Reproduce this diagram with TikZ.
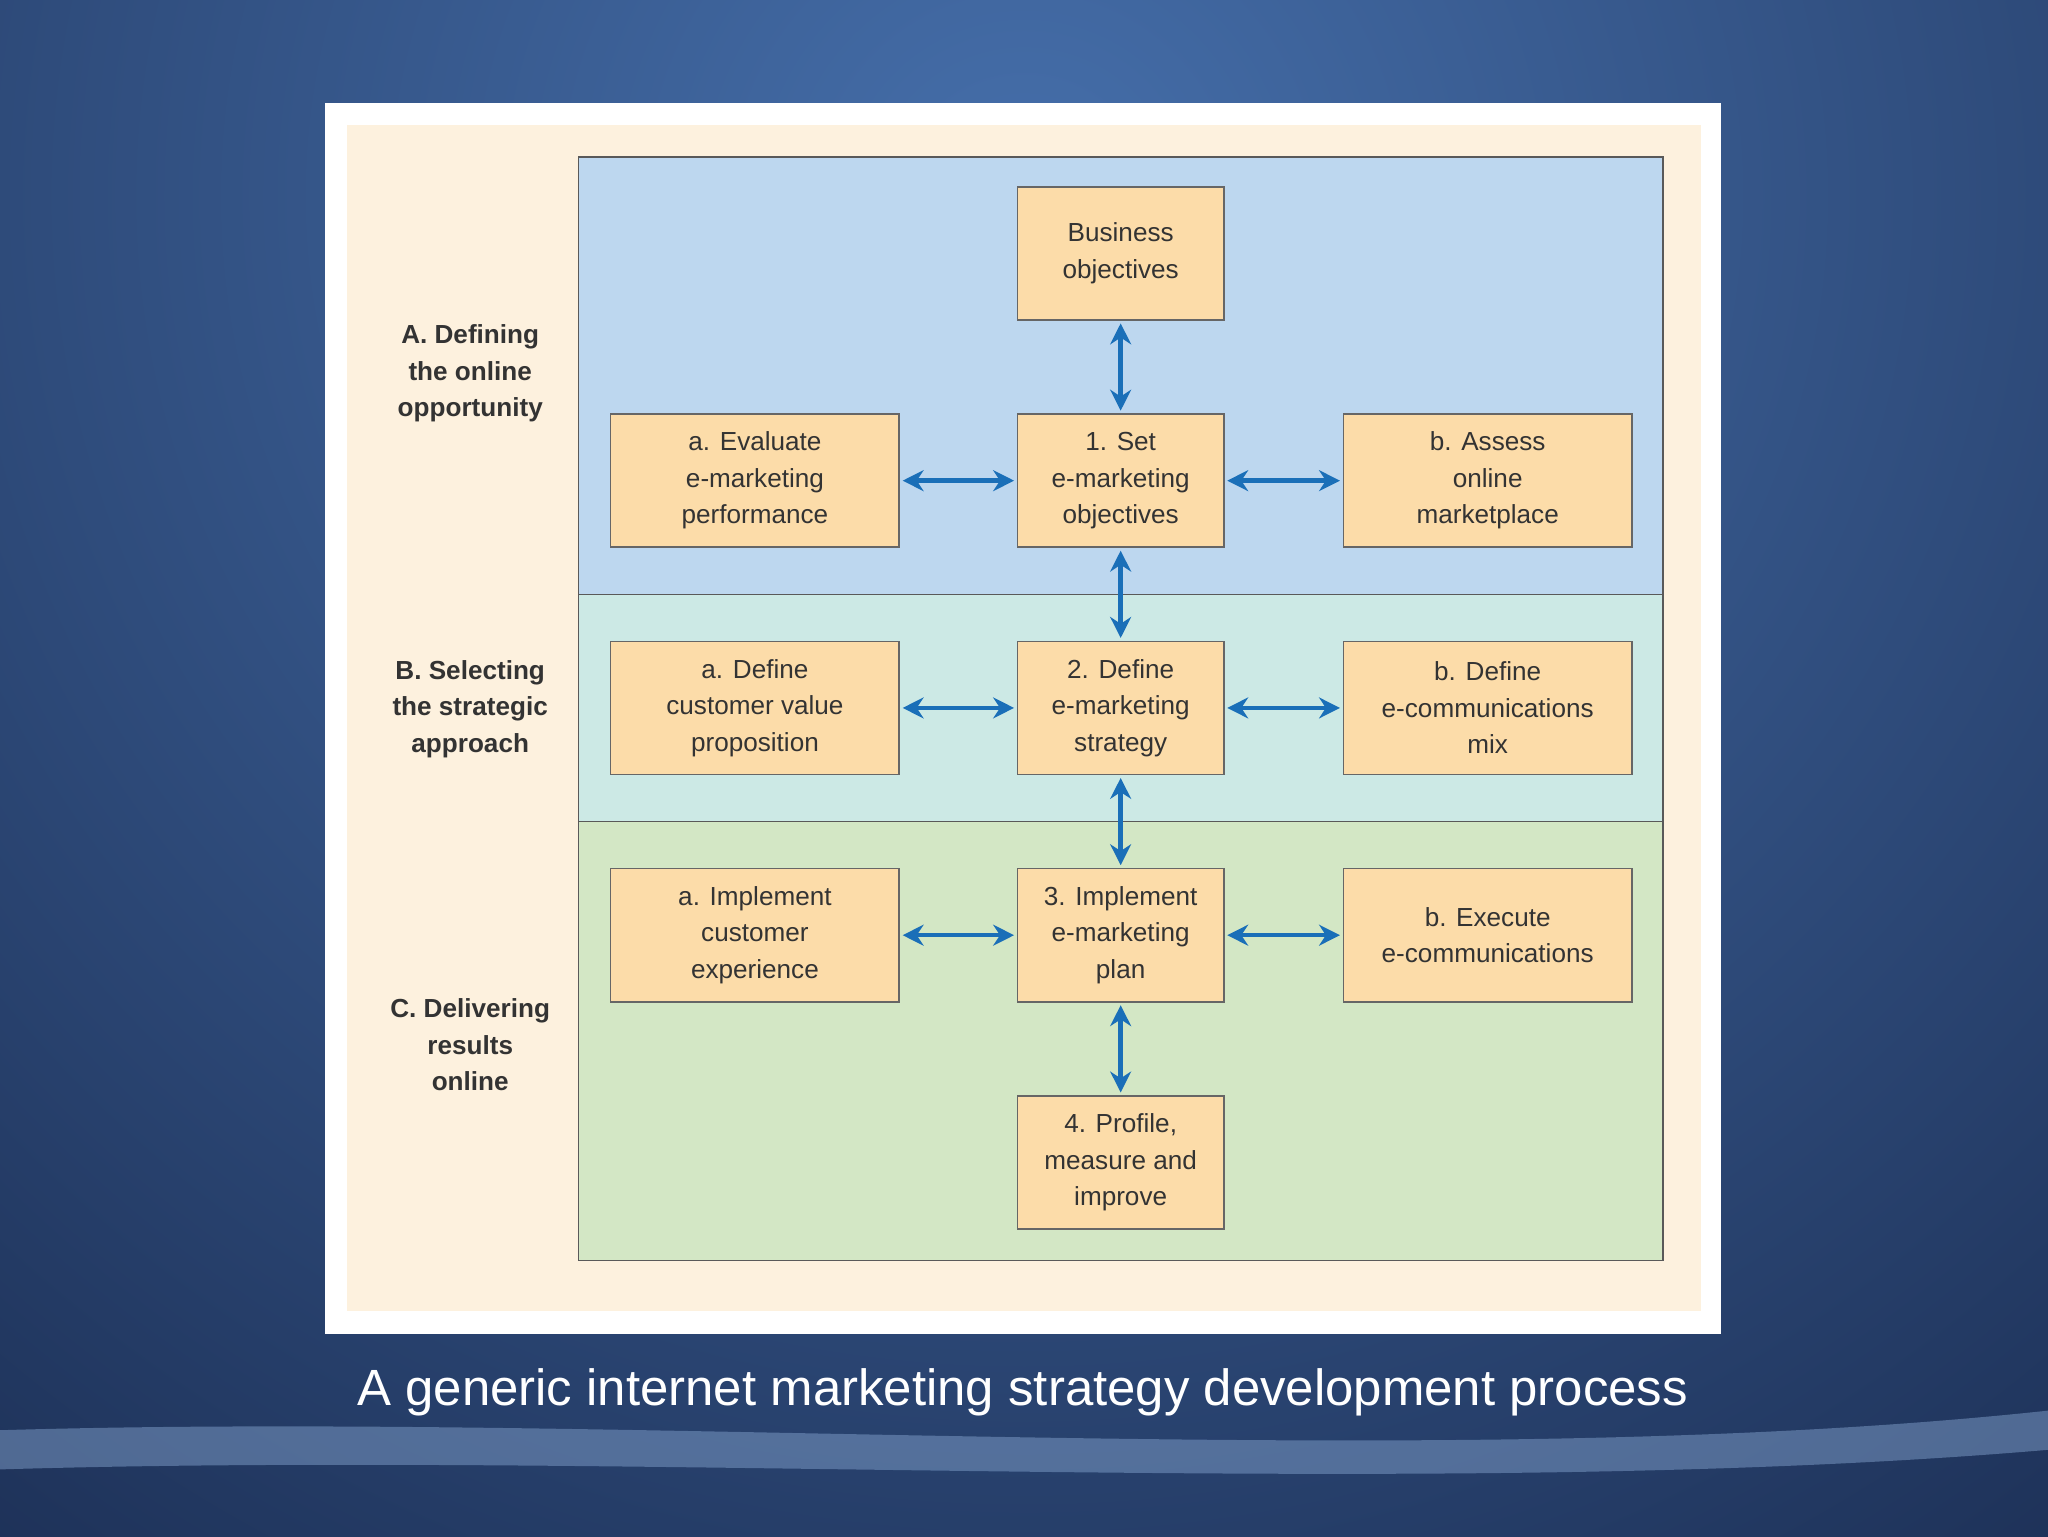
\documentclass[tikz,border=0pt]{standalone}
\usepackage{fontspec}
\setmainfont{Liberation Sans}
\usetikzlibrary{arrows.meta}
\definecolor{bgdark}{HTML}{1C2F55}
\definecolor{bglight}{HTML}{4A76B4}
\definecolor{cream}{HTML}{FDF1DE}
\definecolor{pblue}{HTML}{BDD7EF}
\definecolor{pteal}{HTML}{CCE9E5}
\definecolor{pgreen}{HTML}{D3E7C5}
\definecolor{boxf}{HTML}{FCDCA9}
\definecolor{arr}{HTML}{1A6FB8}
\tikzset{
  bx/.style={draw=gray!80!black, line width=1.2pt, fill=boxf, minimum width=221pt, minimum height=102pt, align=center, font=\fontsize{20}{28}\selectfont, text=black!80, inner sep=0pt},
  bxs/.style={bx, minimum width=158pt},
  lab/.style={align=center, font=\bfseries\fontsize{20}{28}\selectfont, text=black!80},
  ar/.style={{Stealth[length=16pt,width=16pt]}-{Stealth[length=16pt,width=16pt]}, line width=3.5pt, draw=arr, shorten <=2pt, shorten >=2pt},
  panel/.style={draw=gray!70!black, line width=1.2pt}
}
\begin{document}
\begin{tikzpicture}[x=1pt,y=-1pt]
\useasboundingbox (0,0) rectangle (1568,1176);
\begin{scope}
\clip (0,0) rectangle (1568,1176);
\shade[inner color=bglight!90!bgdark, outer color=bgdark] (-600,-1200) rectangle (2168,1500);
\end{scope}
\fill[bglight!70!white, opacity=0.5] (0,1095) .. controls (500,1080) and (1100,1130) .. (1568,1080) -- (1568,1110) .. controls (1100,1150) and (500,1110) .. (0,1125) -- cycle;
\fill[white] (249,79) rectangle (1318,1021);
\fill[cream] (266,96) rectangle (1302,1004);
\fill[pblue] (443,120) rectangle (1273,455);
\fill[pteal] (443,455) rectangle (1273,629);
\fill[pgreen] (443,629) rectangle (1273,965);
\draw[panel] (443,120) rectangle (1273,965);
\draw[panel] (443,455) -- (1273,455);
\draw[panel] (443,629) -- (1273,629);
\node[lab] (la) at (360,286) {A. Defining\\the online\\opportunity};
\node[lab] (lb) at (360,543) {B. Selecting\\the strategic\\approach};
\node[lab] (lc) at (360,800) {C. Delivering\\results\\online};
\node[bxs] (bo) at (858,194) {Business\\objectives};
\node[bx] (a1) at (578,368) {a. Evaluate\\e-marketing\\performance};
\node[bxs] (m1) at (858,368) {1. Set\\e-marketing\\objectives};
\node[bx] (b1) at (1139,368) {b. Assess\\online\\marketplace};
\node[bx] (a2) at (578,542) {a. Define\\customer value\\proposition};
\node[bxs] (m2) at (858,542) {2. Define\\e-marketing\\strategy};
\node[bx] (b2) at (1139,542) {b. Define\\e-communications\\mix};
\node[bx] (a3) at (578,716) {a. Implement\\customer\\experience};
\node[bxs] (m3) at (858,716) {3. Implement\\e-marketing\\plan};
\node[bx] (b3) at (1139,716) {b. Execute\\e-communications};
\node[bxs] (m4) at (858,890) {4. Profile,\\measure and\\improve};
\draw[ar] (bo) -- (m1);
\draw[ar] (m1) -- (m2);
\draw[ar] (m2) -- (m3);
\draw[ar] (m3) -- (m4);
\foreach \r in {1,2,3}{
  \draw[ar] (a\r) -- (m\r);
  \draw[ar] (m\r) -- (b\r);
}
\node[text=white, font=\fontsize{39}{46}\selectfont] (cap) at (783,1066) {A generic internet marketing strategy development process};
\end{tikzpicture}
\end{document}
